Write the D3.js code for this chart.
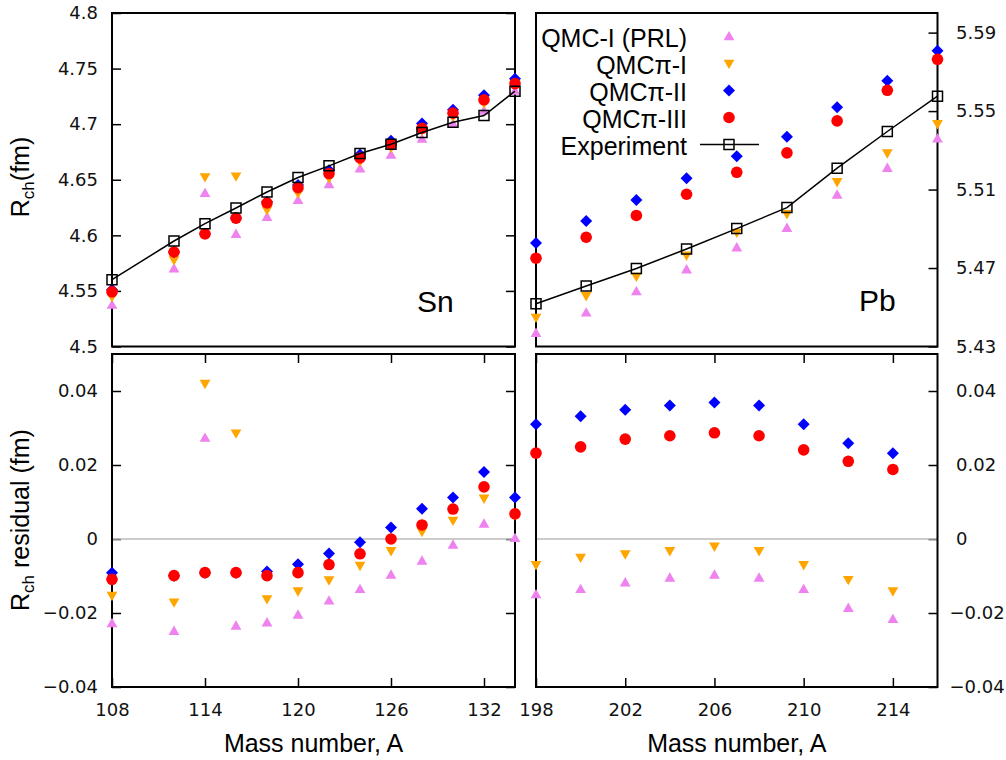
<!DOCTYPE html>
<html>
<head>
<meta charset="utf-8">
<script src="https://cdn.jsdelivr.net/npm/d3@7/dist/d3.min.js"></script>
<style>
  html, body { margin: 0; padding: 0; background: #fff; }
  svg { display: block; }
</style>
</head>
<body>
<svg id="chart" width="1006" height="760"></svg>
<script>
// ---------------- DATA ----------------
const snA = [108, 112, 114, 116, 118, 120, 122, 124, 126, 128, 130, 132, 134];
const snExp     = [4.5601, 4.5949, 4.6105, 4.6246, 4.6390, 4.6520, 4.6625, 4.6736, 4.6820, 4.6925, 4.7018, 4.7078, 4.7297];
const snQMC1    = [4.5373, 4.5700, 4.6378, 4.6011, 4.6164, 4.6315, 4.6458, 4.6600, 4.6723, 4.6866, 4.7002, 4.7119, 4.7299];
const snQMCpi1  = [4.5448, 4.5778, 4.6525, 4.6532, 4.6228, 4.6379, 4.6514, 4.6664, 4.6788, 4.6945, 4.7068, 4.7188, 4.7362];
const snQMCpi2  = [4.5510, 4.5850, 4.6014, 4.6155, 4.6302, 4.6452, 4.6586, 4.6727, 4.6851, 4.7007, 4.7130, 4.7259, 4.7409];
const snQMCpi3  = [4.5492, 4.5850, 4.6014, 4.6155, 4.6291, 4.6429, 4.6556, 4.6696, 4.6820, 4.6963, 4.7099, 4.7219, 4.7365];

const snResQMC1   = [-0.0228, -0.0249, 0.0273, -0.0235, -0.0226, -0.0205, -0.0167, -0.0136, -0.0097, -0.0059, -0.0016, 0.0041, 0.0002];
const snResQMCpi1 = [-0.0153, -0.0171, 0.0420, 0.0286, -0.0162, -0.0141, -0.0111, -0.0072, -0.0032, 0.0020, 0.0050, 0.0110, 0.0065];
const snResQMCpi2 = [-0.0091, -0.0099, -0.0091, -0.0091, -0.0088, -0.0068, -0.0039, -0.0009, 0.0031, 0.0082, 0.0112, 0.0181, 0.0112];
const snResQMCpi3 = [-0.0109, -0.0099, -0.0091, -0.0091, -0.0099, -0.0091, -0.0069, -0.0040, 0.0000, 0.0038, 0.0081, 0.0141, 0.0068];

const pbA = [198, 200, 202, 204, 206, 208, 210, 212, 214];
const pbExp     = [5.4518, 5.4608, 5.4698, 5.4797, 5.4901, 5.5008, 5.5209, 5.5396, 5.5576];
const pbQMC1    = [5.4368, 5.4472, 5.4580, 5.4692, 5.4804, 5.4903, 5.5073, 5.5209, 5.5359];
const pbQMCpi1  = [5.4448, 5.4558, 5.4657, 5.4765, 5.4881, 5.4976, 5.5139, 5.5286, 5.5435];
const pbQMCpi2  = [5.4828, 5.4940, 5.5047, 5.5158, 5.5270, 5.5369, 5.5519, 5.5655, 5.5808];
const pbQMCpi3  = [5.4750, 5.4857, 5.4968, 5.5076, 5.5188, 5.5287, 5.5450, 5.5606, 5.5764];

const pbResQMC1   = [-0.0150, -0.0136, -0.0118, -0.0105, -0.0097, -0.0105, -0.0136, -0.0187, -0.0217];
const pbResQMCpi1 = [-0.0070, -0.0050, -0.0041, -0.0032, -0.0020, -0.0032, -0.0070, -0.0110, -0.0141];
const pbResQMCpi2 = [0.0310, 0.0332, 0.0349, 0.0361, 0.0369, 0.0361, 0.0310, 0.0259, 0.0232];
const pbResQMCpi3 = [0.0232, 0.0249, 0.0270, 0.0279, 0.0287, 0.0279, 0.0241, 0.0210, 0.0188];

const seriesNames = ["QMC-I (PRL)", "QMCπ-I", "QMCπ-II", "QMCπ-III", "Experiment"];

const snTopTicks = [4.5, 4.55, 4.6, 4.65, 4.7, 4.75, 4.8];
const pbTopTicks = [5.43, 5.47, 5.51, 5.55, 5.59];
const resTicks = [-0.04, -0.02, 0, 0.02, 0.04];
const snXTicks = [108, 114, 120, 126, 132];
const pbXTicks = [198, 202, 206, 210, 214];

// ---------------- STYLE ----------------
const fLabel = "'Liberation Sans', Arial, sans-serif";
const fTick = "'DejaVu Sans', sans-serif";
const colors = ["#ee82ee", "#ffa500", "#0000ff", "#ff0000", "#000000"];
const shapes = ["triUp", "triDown", "diamond", "circle", "square"];

const svg = d3.select("#chart");

const L = 112, R1 = 515, L2 = 536, R2 = 937.5;
const T1 = 13, B1 = 346.5, T2 = 354, B2 = 687;

function markerPath(shape) {
  switch (shape) {
    case "triUp":   return "M0,-5.6L5.4,3.8L-5.4,3.8Z";
    case "triDown": return "M0,5.6L5.4,-3.8L-5.4,-3.8Z";
    case "diamond": return "M0,-6L6,0L0,6L-6,0Z";
    case "square":  return "M-5,-5H5V5H-5Z";
    default: return null;
  }
}

function drawMarkers(g, xs, ys, x, y, i) {
  const pts = xs.map((a, k) => [a, ys[k]]);
  if (shapes[i] === "circle") {
    g.selectAll(null).data(pts).enter().append("circle")
      .attr("cx", d => x(d[0])).attr("cy", d => y(d[1])).attr("r", 5.8)
      .attr("fill", colors[i]);
  } else if (shapes[i] === "square") {
    g.selectAll(null).data(pts).enter().append("path")
      .attr("d", markerPath("square"))
      .attr("transform", d => `translate(${x(d[0])},${y(d[1])})`)
      .attr("fill", "none").attr("stroke", "#000").attr("stroke-width", 1.5);
  } else {
    g.selectAll(null).data(pts).enter().append("path")
      .attr("d", markerPath(shapes[i]))
      .attr("transform", d => `translate(${x(d[0])},${y(d[1])})`)
      .attr("fill", colors[i]);
  }
}

function styleAxis(g) {
  g.select(".domain").remove();
  g.selectAll(".tick line").attr("stroke", "#000").attr("stroke-width", 1.5);
  g.selectAll(".tick text").attr("font-family", fTick).attr("font-size", 18).attr("fill", "#111");
}

function panel(cfg) {
  const x = d3.scaleLinear().domain(cfg.xd).range([cfg.l, cfg.r]);
  const y = d3.scaleLinear().domain(cfg.yd).range([cfg.b, cfg.t]);
  const g = svg.append("g");

  // y ticks
  if (cfg.yLeftLabels) {
    g.append("g").attr("transform", `translate(${cfg.l},0)`)
      .call(d3.axisLeft(y).tickValues(cfg.yTicks).tickSizeInner(-9).tickSizeOuter(0).tickPadding(14)
        .tickFormat(d3.format("")))
      .call(styleAxis);
    g.append("g").attr("transform", `translate(${cfg.r},0)`)
      .call(d3.axisRight(y).tickValues(cfg.yTicks).tickSizeInner(-9).tickSizeOuter(0).tickFormat(""))
      .call(styleAxis);
  } else {
    const ax = g.append("g").attr("transform", `translate(${cfg.r},0)`)
      .call(d3.axisRight(y).tickValues(cfg.yTicks).tickSizeInner(-9).tickSizeOuter(0).tickPadding(18.5)
        .tickFormat(d3.format("")))
      .call(styleAxis);
    ax.selectAll(".tick text").attr("x", d => d < 0 ? 12 : 18.5);
  }
  // x ticks
  if (cfg.xTicks) {
    g.append("g").attr("transform", `translate(0,${cfg.b})`)
      .call(d3.axisBottom(x).tickValues(cfg.xTicks).tickSizeInner(-9).tickSizeOuter(0).tickPadding(16)
        .tickFormat(d3.format("")))
      .call(styleAxis);
    g.append("g").attr("transform", `translate(0,${cfg.t})`)
      .call(d3.axisTop(x).tickValues(cfg.xTicks).tickSizeInner(-9).tickSizeOuter(0).tickFormat(""))
      .call(styleAxis);
  }
  // zero line
  if (cfg.zero) {
    g.append("line").attr("x1", cfg.l).attr("x2", cfg.r).attr("y1", y(0)).attr("y2", y(0))
      .attr("stroke", "#bbbbbb").attr("stroke-width", 1.6);
  }
  // frame
  g.append("rect").attr("x", cfg.l).attr("y", cfg.t).attr("width", cfg.r - cfg.l).attr("height", cfg.b - cfg.t)
    .attr("fill", "none").attr("stroke", "#000").attr("stroke-width", 2);

  // series
  cfg.series.forEach((ys, i) => drawMarkers(g, cfg.xs, ys, x, y, i));
  if (cfg.exp) {
    const line = d3.line().x((d, k) => x(cfg.xs[k])).y(d => y(d));
    g.append("path").datum(cfg.exp).attr("d", line).attr("fill", "none")
      .attr("stroke", "#000").attr("stroke-width", 1.5);
    drawMarkers(g, cfg.xs, cfg.exp, x, y, 4);
  }
  if (cfg.tag) {
    g.append("text").attr("x", cfg.tag[1]).attr("y", cfg.tag[2]).text(cfg.tag[0])
      .attr("font-family", fLabel).attr("font-size", 30).attr("fill", "#000");
  }
  return { x, y, g };
}

panel({ l: L, r: R1, t: T1, b: B1, xd: [108, 134], yd: [4.5, 4.8], yTicks: snTopTicks, yLeftLabels: true,
  xs: snA, series: [snQMC1, snQMCpi1, snQMCpi2, snQMCpi3], exp: snExp, tag: ["Sn", 417, 312] });

const pbTop = panel({ l: L2, r: R2, t: T1, b: B1, xd: [198, 214], yd: [5.43, 5.60], yTicks: pbTopTicks, yLeftLabels: false,
  xs: pbA, series: [pbQMC1, pbQMCpi1, pbQMCpi2, pbQMCpi3], exp: pbExp, tag: ["Pb", 859, 311] });

panel({ l: L, r: R1, t: T2, b: B2, xd: [108, 134], yd: [-0.04, 0.05], yTicks: resTicks, yLeftLabels: true,
  xTicks: snXTicks, zero: true,
  xs: snA, series: [snResQMC1, snResQMCpi1, snResQMCpi2, snResQMCpi3] });

panel({ l: L2, r: R2, t: T2, b: B2, xd: [198, 216], yd: [-0.04, 0.05], yTicks: resTicks, yLeftLabels: false,
  xTicks: pbXTicks, zero: true,
  xs: pbA, series: [pbResQMC1, pbResQMCpi1, pbResQMCpi2, pbResQMCpi3] });

// legend
const lg = svg.append("g");
seriesNames.forEach((name, i) => {
  const by = 47 + i * 27;
  lg.append("text").attr("x", 687).attr("y", by).attr("text-anchor", "end")
    .attr("font-family", fLabel).attr("font-size", 25).attr("fill", "#000").text(name);
  const mx = 729, my = by - 10.5;
  if (i === 4) {
    lg.append("line").attr("x1", 700).attr("x2", 759).attr("y1", my).attr("y2", my)
      .attr("stroke", "#000").attr("stroke-width", 1.5);
  }
  const fake = { x: v => mx, y: v => my };
  drawMarkers(lg, [0], [0], fake.x, fake.y, i);
});

// axis titles
function yTitle(cx, cy, rest) {
  const t = svg.append("text").attr("transform", `translate(${cx},${cy}) rotate(-90)`)
    .attr("text-anchor", "middle").attr("font-family", fLabel).attr("font-size", 25).attr("fill", "#000");
  t.append("tspan").text("R");
  t.append("tspan").attr("font-size", 17).attr("dy", 5).text("ch");
  t.append("tspan").attr("dy", -5).text(rest);
}
yTitle(29, 177, "(fm)");
yTitle(29, 520, " residual (fm)");

svg.append("text").attr("x", (L + R1) / 2).attr("y", 752).attr("text-anchor", "middle")
  .attr("font-family", fLabel).attr("font-size", 25).attr("fill", "#000").text("Mass number, A");
svg.append("text").attr("x", (L2 + R2) / 2).attr("y", 752).attr("text-anchor", "middle")
  .attr("font-family", fLabel).attr("font-size", 25).attr("fill", "#000").text("Mass number, A");
</script>
</body>
</html>
